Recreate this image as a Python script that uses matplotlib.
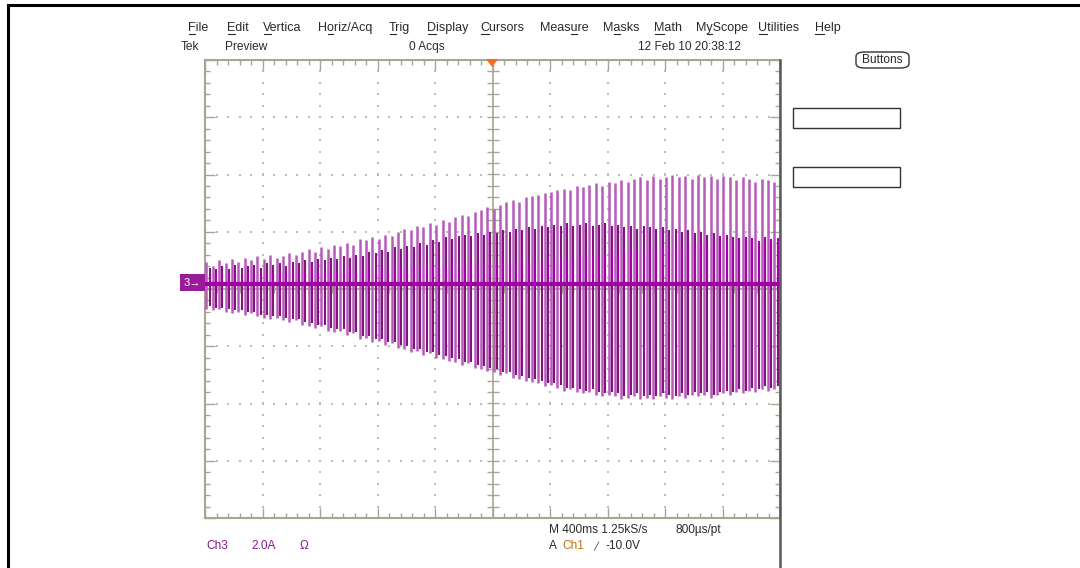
import matplotlib.pyplot as plt
import matplotlib.patches as mpatches
import matplotlib.lines as mlines
import numpy as np
from matplotlib.ticker import MultipleLocator

# scope settings
time_per_div = 0.4      # M 400ms
amps_per_div = 2.0      # Ch3 2.0A
pulse_period = 0.0444   # one light + one dark burst line per period
baseline = 0.18         # trace offset of channel 3, A

# burst peaks per period, A
light_hi = [0.95, 0.8, 1.0, 0.9, 1.05, 0.95, 1.1, 1.0, 1.15, 1.05,
            1.2, 1.1, 1.15, 1.25, 1.2, 1.3, 1.4, 1.3, 1.45, 1.4,
            1.55, 1.5, 1.6, 1.55, 1.75, 1.7, 1.8, 1.75, 1.9, 1.85,
            2.0, 2.1, 2.05, 2.2, 2.15, 2.3, 2.25, 2.4, 2.35, 2.5,
            2.6, 2.55, 2.7, 2.75, 2.85, 2.8, 2.95, 3.05, 3.1, 3.05,
            3.2, 3.25, 3.3, 3.35, 3.4, 3.45, 3.5, 3.45, 3.6, 3.55,
            3.65, 3.7, 3.6, 3.75, 3.7, 3.8, 3.75, 3.85, 3.9, 3.8,
            3.95, 3.85, 3.9, 4.0, 3.9, 3.95, 3.85, 4.0, 3.9, 3.95,
            3.85, 3.95, 3.9, 3.8, 3.9, 3.85, 3.75, 3.85, 3.8, 3.75]
light_lo = [-0.7, -0.75, -0.7, -0.8, -0.85, -0.8, -0.9, -0.85, -0.95, -1.0,
            -1.05, -1.0, -1.1, -1.15, -1.1, -1.25, -1.3, -1.35, -1.3, -1.45,
            -1.5, -1.45, -1.6, -1.55, -1.75, -1.7, -1.85, -1.8, -1.95, -1.9,
            -2.05, -2.1, -2.2, -2.15, -2.3, -2.25, -2.4, -2.45, -2.5, -2.55,
            -2.65, -2.6, -2.75, -2.8, -2.85, -2.9, -3.0, -2.95, -3.1, -3.15,
            -3.2, -3.25, -3.3, -3.4, -3.35, -3.45, -3.55, -3.5, -3.6, -3.65,
            -3.6, -3.7, -3.75, -3.7, -3.75, -3.85, -3.8, -3.75, -3.85, -3.8,
            -3.85, -3.75, -3.8, -3.85, -3.75, -3.8, -3.7, -3.75, -3.7, -3.8,
            -3.7, -3.65, -3.7, -3.6, -3.65, -3.55, -3.6, -3.5, -3.55, -3.5]
dark_hi = [0.75, 0.7, 0.8, 0.7, 0.85, 0.75, 0.8, 0.85, 0.75, 0.9,
           0.85, 0.9, 0.8, 0.95, 0.9, 1.0, 0.95, 1.05, 1.0, 1.1,
           1.05, 1.15, 1.1, 1.2, 1.15, 1.3, 1.25, 1.35, 1.3, 1.45,
           1.4, 1.5, 1.45, 1.6, 1.55, 1.7, 1.65, 1.8, 1.75, 1.85,
           1.9, 1.85, 1.95, 1.9, 2.0, 1.95, 2.05, 2.0, 2.1, 2.05,
           2.15, 2.1, 2.2, 2.15, 2.25, 2.2, 2.3, 2.2, 2.25, 2.3,
           2.2, 2.25, 2.3, 2.2, 2.25, 2.15, 2.2, 2.1, 2.2, 2.15,
           2.1, 2.15, 2.05, 2.1, 2.0, 2.05, 1.95, 2.0, 1.9, 1.95,
           1.85, 1.9, 1.8, 1.75, 1.8, 1.7, 1.65, 1.7, 1.6, 1.55]
dark_lo = [-0.6, -0.65, -0.65, -0.7, -0.75, -0.75, -0.8, -0.8, -0.9, -0.9,
           -0.95, -0.95, -1.0, -1.05, -1.05, -1.15, -1.2, -1.25, -1.25, -1.35,
           -1.4, -1.4, -1.5, -1.5, -1.65, -1.65, -1.75, -1.75, -1.85, -1.85,
           -1.95, -2.0, -2.1, -2.1, -2.2, -2.2, -2.3, -2.35, -2.4, -2.45,
           -2.55, -2.55, -2.65, -2.7, -2.75, -2.8, -2.9, -2.9, -3.0, -3.05,
           -3.1, -3.15, -3.2, -3.3, -3.3, -3.35, -3.45, -3.45, -3.5, -3.55,
           -3.5, -3.6, -3.65, -3.6, -3.65, -3.75, -3.7, -3.65, -3.75, -3.7,
           -3.75, -3.65, -3.7, -3.75, -3.65, -3.7, -3.6, -3.65, -3.6, -3.7,
           -3.6, -3.55, -3.6, -3.5, -3.55, -3.45, -3.5, -3.4, -3.45, -3.4]
stub_hi = [0.3, 0.35, 0.3, 0.4, 0.35, 0.3, 0.4, 0.35, 0.3, 0.4,
           0.35, 0.45, 0.4, 0.35, 0.45, 0.4, 0.5, 0.45, 0.4, 0.5,
           0.45, 0.5, 0.55, 0.45, 0.5, 0.55, 0.5, 0.6, 0.5, 0.55,
           0.6, 0.5, 0.55, 0.6, 0.55, 0.65, 0.6, 0.55, 0.65, 0.6,
           0.6, 0.7, 0.65, 0.6, 0.7, 0.65, 0.75, 0.7, 0.65, 0.75,
           0.7, 0.8, 0.75, 0.85, 0.8, 0.9, 0.85, 0.95, 0.9, 1.0,
           0.95, 1.05, 1.0, 1.1, 1.05, 1.15, 1.1, 1.2, 1.15, 1.25,
           1.2, 1.3, 1.25, 1.35, 1.3, 1.4, 1.35, 1.45, 1.4, 1.5,
           1.45, 1.55, 1.5, 1.6, 1.55, 1.6, 1.5, 1.65, 1.55, 1.6]

menu_items = ["File", "Edit", "Vertica", "Horiz/Acq", "Trig", "Display", "Cursors",
              "Measure", "Masks", "Math", "MyScope", "Utilities", "Help"]
menu_hotkey = [0, 0, 0, 1, 0, 0, 0, 4, 1, 0, 1, 0, 0]   # underlined letter
menu_x = [188, 227, 263, 318, 389, 427, 480, 540, 603, 654, 696, 758, 815]

W, H = 1080, 568
plt.rcParams['font.family'] = ['Liberation Sans', 'DejaVu Sans']
fig = plt.figure(figsize=(W / 100, H / 100), dpi=100)
fig.patch.set_facecolor('white')
renderer = fig.canvas.get_renderer()


def fx(px):
    return px / W


def fy(py):
    return 1 - py / H


def ftext(px, py, s, **kw):
    kw.setdefault('fontsize', 8.6)
    kw.setdefault('color', '#2a2a2a')
    return fig.text(fx(px), fy(py), s, va='center', ha='left', **kw)


def text_width(s, size):
    if not s:
        return 0.0
    tmp = fig.text(0, 0, s, fontsize=size)
    w = tmp.get_window_extent(renderer).width
    tmp.remove()
    return w


# outer frame (left and top only are visible)
fig.add_artist(mlines.Line2D([fx(8), fx(8)], [fy(5), fy(568)], color='black', lw=2.2))
fig.add_artist(mlines.Line2D([fx(8), fx(1080)], [fy(5), fy(5)], color='black', lw=2.2))

# menus and status line
for name, x, k in zip(menu_items, menu_x, menu_hotkey):
    ftext(x, 28, name, fontsize=9)
    x0 = x + text_width(name[:k], 9)
    x1 = x + text_width(name[:k + 1], 9)
    fig.add_artist(mlines.Line2D([fx(x0 + 0.5), fx(x1 - 0.5)], [fy(34), fy(34)],
                                 color='#2a2a2a', lw=0.8))
ftext(181, 47, "Tek")
ftext(225, 47, "Preview")
ftext(409, 47, "0 Acqs")
ftext(638, 47, "12 Feb 10 20:38:12")
fig.add_artist(mpatches.FancyBboxPatch((fx(856), fy(68)), fx(53), 16 / H,
                                       boxstyle="round,pad=0,rounding_size=0.008",
                                       fc='white', ec='#333333', lw=1.0))
fig.text(fx(882), fy(60), "Buttons", fontsize=8.6, ha='center', va='center', color='#2a2a2a')
for top in (108, 167):
    fig.add_artist(mpatches.Rectangle((fx(793), fy(top + 20)), fx(107), 20 / H,
                                      fc='white', ec='#333333', lw=1.0))

# graticule
ax = fig.add_axes([fx(205), fy(518), fx(575), 458 / H])
xmax = 5 * time_per_div
ymax = 4 * amps_per_div
ax.set_xlim(-xmax, xmax)
ax.set_ylim(-ymax, ymax)
grat = '#a8a690'
for sp in ax.spines.values():
    sp.set_color(grat)
    sp.set_linewidth(1.5)
ax.xaxis.set_major_locator(MultipleLocator(time_per_div))
ax.xaxis.set_minor_locator(MultipleLocator(time_per_div / 5))
ax.yaxis.set_major_locator(MultipleLocator(amps_per_div))
ax.yaxis.set_minor_locator(MultipleLocator(amps_per_div / 5))
ax.tick_params(which='both', direction='in', top=True, right=True, color=grat,
               labelbottom=False, labelleft=False, width=1.0)
ax.tick_params(which='major', length=7)
ax.tick_params(which='minor', length=3.5)

xs_minor = np.arange(-xmax, xmax + 1e-9, time_per_div / 5)
ys_minor = np.arange(-ymax, ymax + 1e-9, amps_per_div / 5)
xs_div = np.arange(-xmax + time_per_div, xmax - 1e-9, time_per_div)
ys_div = np.arange(-ymax + amps_per_div, ymax - 1e-9, amps_per_div)
dx, dy = [], []
for xv in xs_div:
    if abs(xv) > 1e-9:
        dx += list(np.full(len(ys_minor), xv))
        dy += list(ys_minor)
for yv in ys_div:
    if abs(yv) > 1e-9:
        dx += list(xs_minor)
        dy += list(np.full(len(xs_minor), yv))
ax.scatter(dx, dy, s=1.2, color='#bcbcbc', marker='s', lw=0, zorder=1)

# centre cross
ax.axhline(0, color=grat, lw=1.2, zorder=1)
ax.axvline(0, color=grat, lw=1.2, zorder=1)
ax.plot(xs_minor, np.zeros(len(xs_minor)), ls='none', marker='|', ms=6, mew=1.0, color=grat, zorder=1)
ax.plot(np.zeros(len(ys_minor)), ys_minor, ls='none', marker='_', ms=8, mew=1.0, color=grat, zorder=1)

# trace
t = -xmax + 0.01 + pulse_period * np.arange(len(light_hi))
ax.vlines(t, light_lo, light_hi, color='#b65abc', lw=1.8, zorder=3)
ax.vlines(t + pulse_period / 2, dark_lo, dark_hi, color='#82127c', lw=1.5, zorder=3)
ax.vlines(t + pulse_period / 2, baseline, np.array(stub_hi) + baseline, color='#a400a8', lw=1.5, zorder=4)
ax.axhline(baseline, color='#a000a4', lw=3.0, zorder=5)

# right edge of the display area
fig.add_artist(mlines.Line2D([fx(780), fx(780)], [fy(60), fy(568)], color='#5a5a5a', lw=1.8))

# trigger position marker
fig.add_artist(mpatches.Polygon([[fx(486), fy(59)], [fx(498), fy(59)], [fx(492), fy(67)]],
                                closed=True, fc='#ff6a1a', ec='none'))
# ground marker for channel 3
fig.add_artist(mpatches.Rectangle((fx(180), fy(291)), fx(25), 17 / H, fc='#9a1a9a', ec='none'))
fig.text(fx(192), fy(282.5), "3→", fontsize=8, color='white', ha='center', va='center')

# readouts
ftext(549, 530, "M 400ms 1.25kS/s")
ftext(676, 530, "800µs/pt")
ftext(549, 546, "A")
ftext(562, 546, "Ch1", color='#c07010')
ftext(593, 546, "╱", fontsize=6, family=['DejaVu Sans'])
ftext(606, 546, "-10.0V")
ftext(206, 546, "Ch3", color='#8b1a8b')
ftext(251, 546, "2.0A", color='#8b1a8b')
ftext(300, 546, "Ω", color='#8b1a8b')

fig.savefig('out.png', dpi=100)
